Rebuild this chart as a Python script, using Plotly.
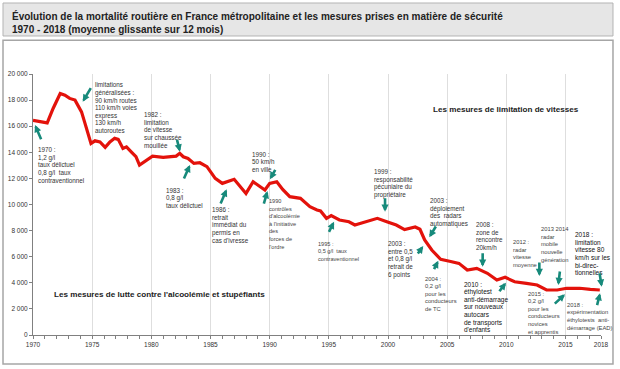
import plotly.graph_objects as go

# ---- data ----
years = [1970.0, 1970.5, 1971.2, 1971.7, 1972.0, 1972.3, 1972.7, 1973.1, 1973.55, 1973.8,
         1974.1, 1974.4, 1974.6, 1974.9, 1975.24, 1975.66, 1976.1, 1976.5, 1976.9, 1977.2,
         1977.6, 1977.9, 1978.3, 1978.7, 1979.0, 1979.6, 1980.1, 1981.0, 1981.6, 1982.1,
         1982.4, 1982.7, 1983.1, 1983.6, 1984.1, 1984.7, 1985.4, 1986.0, 1987.0, 1988.0,
         1988.6, 1989.2, 1989.6, 1990.0, 1990.6, 1991.1, 1991.7, 1992.6, 1993.4, 1994.0,
         1994.3, 1994.8, 1995.2, 1995.9, 1996.7, 1997.2, 1997.9, 1999.1, 1999.9, 2000.7,
         2001.4, 2002.3, 2002.7, 2003.1, 2003.7, 2004.45, 2005.2, 2006.0, 2006.7, 2007.5,
         2008.4, 2009.2, 2009.9, 2010.7, 2011.7, 2012.6, 2013.4, 2014.3, 2015.1, 2016.2,
         2017.1, 2017.9]
deaths = [16450, 16380, 16250, 17360, 18000, 18500, 18380, 18130, 18000, 17620,
          17100, 16200, 15570, 14680, 14880, 14800, 14380, 14800, 15070, 14990,
          14300, 14420, 14040, 13660, 13020, 13400, 13710, 13610, 13660, 13710,
          13920, 13660, 13530, 13150, 13200, 12900, 12000, 11620, 11930, 10850,
          11740, 11400, 11110, 11620, 11740, 11150, 10600, 10470, 9830, 9580,
          9500, 8940, 9150, 8810, 8680, 8430, 8600, 8940, 8680, 8430,
          8080, 8280, 8100, 7280, 6510, 5800, 5650, 5490, 4980, 5110,
          4730, 4210, 4420, 4080, 3960, 3830, 3450, 3450, 3580, 3580,
          3500, 3450]

x_tickvals = [1970, 1975, 1980, 1985, 1990, 1995, 2000, 2005, 2010, 2015, 2018]
x_ticktext = ["1970", "1975", "1980", "1985", "1990", "1995", "2000", "2005", "2010", "2015", "2018"]
y_tickvals = [0, 2000, 4000, 6000, 8000, 10000, 12000, 14000, 16000, 18000, 20000]
y_ticktext = ["0", "2 000", "4 000", "6 000", "8 000", "10 000", "12 000", "14 000",
              "16 000", "18 000", "20 000"]

title_text = ("<b>Évolution de la mortalité routière en France métropolitaine et les mesures "
              "prises en matière de sécurité<br>1970 - 2018 (moyenne glissante sur 12 mois)</b>")

# notes: (left year, top value, lines, size, color)
notes = [
    (1970.31, 14430, ["1970 :", "1,2 g/l", "taux délictuel", "0,8 g/l  taux", "contraventionnel"], 6.3, "#333"),
    (1975.18, 19980, ["1973-1974 :", "limitations", "généralisées :", "90 km/h routes",
                      "110 km/h voies", "express", "130 km/h", "autoroutes"], 6.3, "#333"),
    (1979.27, 17110, ["1982 :", "limitation", "de vitesse", "sur chaussée", "mouillée"], 6.3, "#333"),
    (1981.15, 11320, ["1983 :", "0,8 g/l", "taux délictuel"], 6.3, "#333"),
    (1985.02, 9830, ["1986 :", "retrait", "immédiat du", "permis en", "cas d'ivresse"], 6.3, "#333"),
    (1988.40, 14100, ["1990 :", "50 km/h", "en ville"], 6.3, "#333"),
    (1989.89, 10470, ["1990", "contrôles", "d'alcoolémie", "à l'initiative", "des", "forces de",
                      "l'ordre"], 5.6, "#444"),
    (1993.97, 7200, ["1995 :", "0,5 g/l  taux", "contraventionnel"], 5.6, "#444"),
    (1998.76, 12770, ["1999 :", "responsabilité", "pécuniaire du", "propriétaire"], 6.3, "#333"),
    (2003.49, 10520, ["2003 :", "déploiement", "des  radars", "automatiques"], 6.3, "#333"),
    (1999.94, 7230, ["2003 :", "entre 0,5", "et 0,8 g/l", "retrait de", "6 points"], 6.3, "#333"),
    (2003.04, 4520, ["2004 :", "0,2 g/l", "pour les", "conducteurs", "de TC"], 5.8, "#444"),
    (2007.35, 8680, ["2008 :", "zone de", "rencontre", "20km/h"], 6.3, "#333"),
    (2006.31, 4140, ["2010 :", "éthylotest", "anti-démarrage", "sur nouveaux", "autocars",
                     "de transports", "d'enfants"], 6.5, "#111"),
    (2010.45, 7330, ["2012 :", "radar", "vitesse", "moyenne"], 5.8, "#444"),
    (2012.85, 8300, ["2013 2014", "radar", "mobile", "nouvelle", "génération"], 5.8, "#444"),
    (2011.72, 3370, ["2015 :", "0,2 g/l", "pour les", "conducteurs", "novices", "et apprentis"], 5.8, "#444"),
    (2015.72, 7920, ["2018 :", "limitation", "vitesse 80", "km/h sur les", "bi-direc-",
                     "tionnelles"], 6.5, "#111"),
    (2015.02, 2510, ["2018 :", "expérimentation", "éthylotests  anti-", "démarrage (EAD)"], 5.8, "#444"),
]

# arrows: (tail x, tail y, head x, head y)
arrows = [
    (1970.74, 14890, 1970.17, 16090),
    (1974.96, 19030, 1974.20, 17880),
    (1982.14, 15070, 1982.42, 14050),
    (1982.70, 11880, 1983.27, 13030),
    (1985.80, 9960, 1986.37, 11160),
    (1990.54, 12770, 1990.03, 11930),
    (1989.47, 9960, 1989.82, 11030),
    (1994.95, 7790, 1995.44, 8680),
    (1999.75, 10600, 1999.75, 9450),
    (2004.12, 8430, 2003.49, 7490),
    (2002.43, 6130, 2002.98, 6820),
    (2003.83, 4930, 2004.25, 5690),
    (2008.00, 6380, 2008.00, 5230),
    (2009.32, 3240, 2009.97, 4010),
    (2012.79, 5670, 2012.79, 4520),
    (2014.54, 4980, 2014.39, 3830),
    (2013.97, 2300, 2014.96, 3120),
    (2017.86, 4850, 2018.06, 3700),
    (2017.64, 2170, 2017.92, 3200),
]

# group labels: (center year, center value, text)
groups = [
    (1980.73, 3120, "Les mesures de lutte contre l'alcoolémie et stupéfiants"),
    (2009.97, 17300, "Les mesures de limitation de vitesses"),
]

FONT = "Liberation Sans, Arial, sans-serif"
LINE = 582       # line spacing in data units (~7.6 px)
TOP_SHIFT = 110  # glyph top vs annotation box top

fig = go.Figure()
fig.add_trace(go.Scatter(x=years, y=deaths, mode="lines",
                         line=dict(color="#e3120b", width=3.2), hoverinfo="skip",
                         showlegend=False))

annotations = []
for x0, top, lines, size, color in notes:
    for i, line in enumerate(lines):
        annotations.append(dict(x=x0, y=top + TOP_SHIFT - i * LINE, xref="x", yref="y",
                                text=line, showarrow=False, xanchor="left", yanchor="top",
                                borderpad=0, font=dict(family=FONT, size=size, color=color)))
for tx, ty, hx, hy in arrows:
    annotations.append(dict(x=hx, y=hy, ax=tx, ay=ty, xref="x", yref="y", axref="x", ayref="y",
                            text="", showarrow=True, arrowhead=2, arrowsize=0.55,
                            arrowwidth=2.6, arrowcolor="#178a7b", standoff=0, startstandoff=0))
for gx, gy, txt in groups:
    annotations.append(dict(x=gx, y=gy, xref="x", yref="y", text="<b>" + txt + "</b>",
                            showarrow=False, xanchor="center", yanchor="middle",
                            font=dict(family=FONT, size=8.1, color="#222")))
annotations.append(dict(x=-0.0405, y=1.1992, xref="paper", yref="paper", text=title_text,
                        showarrow=False, xanchor="left", yanchor="middle", align="left",
                        font=dict(family=FONT, size=10, color="#222")))

shapes = [
    dict(type="rect", xref="paper", yref="paper", x0=-0.0528, x1=1.0211, y0=1.1456, y1=1.2720,
         fillcolor="#e6e6e6", line=dict(color="#b3b3b3", width=1), layer="below"),
    dict(type="rect", xref="paper", yref="paper", x0=-0.0528, x1=1.0211, y0=-0.1111, y1=1.1290,
         fillcolor="rgba(0,0,0,0)", line=dict(color="#a6a6a6", width=1.5), layer="below"),
]

fig.update_layout(
    width=620, height=369,
    margin=dict(l=33, r=19, t=74, b=34),
    paper_bgcolor="white", plot_bgcolor="white",
    annotations=annotations, shapes=shapes,
    showlegend=False,
    font=dict(family=FONT, size=6.5, color="#333"),
)
fig.update_xaxes(range=[1970, 2018], tickmode="array", tickvals=x_tickvals, ticktext=x_ticktext,
                 showgrid=True, gridcolor="#dedede", gridwidth=1, zeroline=False,
                 showline=True, linecolor="#808080", linewidth=1,
                 ticks="outside", ticklen=3, tickcolor="#808080",
                 minor=dict(dtick=1, tick0=1970, ticks="outside", ticklen=3, tickcolor="#808080",
                            showgrid=False),
                 tickfont=dict(family=FONT, size=6.5, color="#333"), automargin=False)
fig.update_yaxes(range=[0, 20000], tickmode="array", tickvals=y_tickvals, ticktext=y_ticktext,
                 showgrid=False, zeroline=False, showline=True, linecolor="#808080", linewidth=1,
                 ticks="outside", ticklen=3, tickcolor="#808080",
                 tickfont=dict(family=FONT, size=6.5, color="#333"), automargin=False)

fig.write_html("out.html", config={"displayModeBar": False},
               post_script="document.body.style.margin='0';")
